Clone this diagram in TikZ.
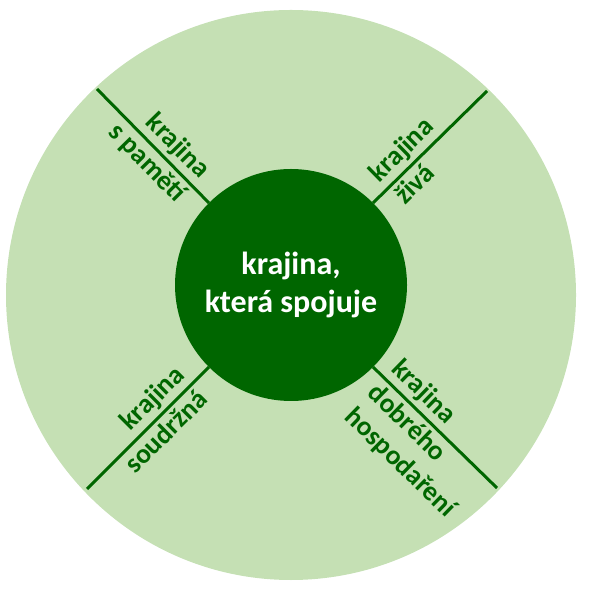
\documentclass[tikz,border=0pt]{standalone}
\usepackage{fontspec}
\setmainfont{Carlito}
\definecolor{leafpale}{RGB}{197,224,180}
\definecolor{leafdark}{RGB}{0,102,0}
\begin{document}
\begin{tikzpicture}[x=1pt,y=1pt,
		spoke/.style={leafdark,line width=3pt},
		lbl/.style={sloped,text=leafdark,font=\bfseries\fontsize{27.5}{33}\selectfont,inner sep=3.5pt}]
			\useasboundingbox (0,0) rectangle (593,591);
			\node[circle,fill=leafpale,minimum size=570pt,inner sep=0,outer sep=0] (rim) at (291,296) {};
			\node[circle,fill=leafdark,minimum size=232pt,inner sep=0,outer sep=0,text=white,align=center,font=\bfseries\fontsize{32}{38}\selectfont] (mid) at (291,306) {krajina,\\která spojuje};
			\coordinate (tl) at (97,502);
			\coordinate (tr) at (487,500);
			\coordinate (bl) at (87,102);
			\coordinate (br) at (497,103);
			\draw[spoke] (tl)--(mid.135) node[lbl,pos=.61,above]{krajina} node[lbl,pos=.55,below]{s pamětí};
			\draw[spoke] (mid.45)--(tr) node[lbl,pos=.36,above]{krajina} node[lbl,pos=.27,below]{živá};
			\draw[spoke] (bl)--(mid.225) node[lbl,pos=.64,above]{krajina} node[lbl,pos=.56,below]{soudržná};
			\draw[spoke] (mid.315)--(br) node[lbl,pos=.31,above]{krajina} node[lbl,pos=.5,below,align=left]{dobrého\\hospodaření};
		\end{tikzpicture}
\end{document}
